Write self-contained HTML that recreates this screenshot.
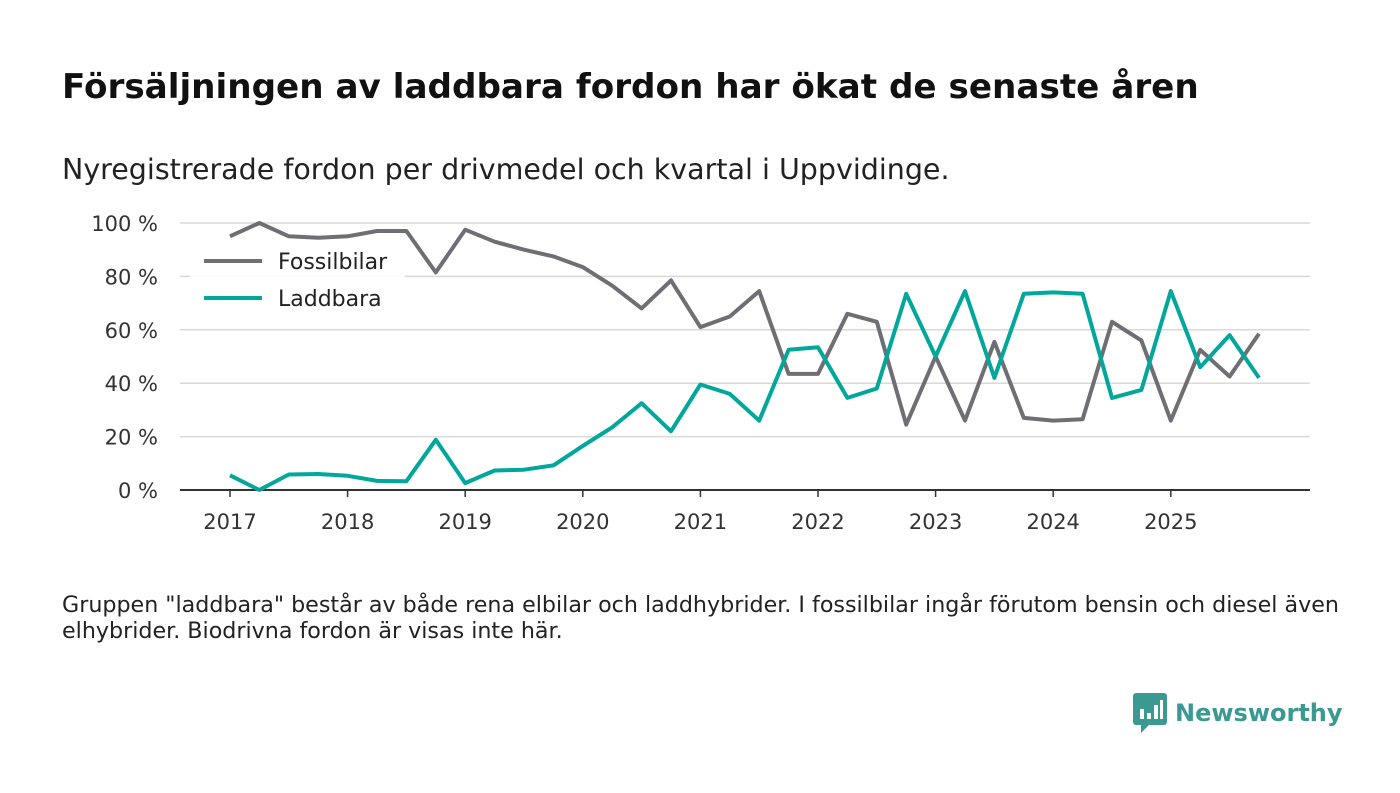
<!DOCTYPE html>
<html><head><meta charset="utf-8"><style>
body{margin:0;width:1400px;height:793px;background:#fff;font-family:"DejaVu Sans","Liberation Sans",sans-serif;overflow:hidden;position:relative}
h1{position:absolute;left:62px;top:67px;margin:0;font-size:34.2px;font-weight:bold;color:#111;white-space:nowrap}
.sub{position:absolute;left:62px;top:153px;font-size:28.5px;color:#222;white-space:nowrap}
.note{position:absolute;left:62px;top:592px;font-size:22.2px;color:#222;line-height:26px;width:1320px;white-space:nowrap}
.logo{position:absolute;left:1133px;top:693px;display:flex;align-items:center;gap:8px;color:#3a9a92;font-size:24px;font-weight:bold}
svg text{font-family:"DejaVu Sans","Liberation Sans",sans-serif}
</style></head><body>
<h1>Försäljningen av laddbara fordon har ökat de senaste åren</h1>
<div class="sub">Nyregistrerade fordon per drivmedel och kvartal i Uppvidinge.</div>
<svg id="chart" width="1400" height="793" style="position:absolute;left:0;top:0"></svg>
<div class="note">Gruppen "laddbara" består av både rena elbilar och laddhybrider. I fossilbilar ingår förutom bensin och diesel även<br>elhybrider. Biodrivna fordon är visas inte här.</div>
<div class="logo">
<svg width="34" height="40" viewBox="0 0 34 40"><rect x="0" y="0" width="34" height="32" rx="3" fill="#3a9a92"/><path d="M8 32 L8 40 L16 32Z" fill="#3a9a92"/><rect x="7" y="16" width="4" height="10" fill="#fff"/><rect x="14" y="20" width="4" height="6" fill="#fff"/><rect x="21" y="12" width="4" height="14" fill="#fff"/><rect x="27" y="7" width="3" height="19" fill="#fff"/></svg>
<span>Newsworthy</span></div>
<script>
const years=[2017,2018,2019,2020,2021,2022,2023,2024,2025];
const yTicks=[0,20,40,60,80,100];
const fossil=[95,100,95,94.5,95,97,97,81.5,97.5,93,90,87.5,83.5,76.5,68,78.5,61,65,74.5,43.5,43.5,66,63,24.5,50,26,55.5,27,26,26.5,63,56,26,52.5,42.5,58.5];
const laddbara=[5.5,0,5.8,6,5.3,3.4,3.3,18.8,2.6,7.3,7.6,9.2,16.5,23.5,32.5,22,39.5,36,26,52.5,53.5,34.5,38,73.5,50,74.5,42,73.5,74,73.5,34.5,37.5,74.5,46,58,42];
const NS="http://www.w3.org/2000/svg";
const svg=document.getElementById('chart');
const x=t=>230+(t-2017)*117.6;
const y=v=>490-v*2.67;
function el(tag,attrs,parent){const e=document.createElementNS(NS,tag);for(const k in attrs)e.setAttribute(k,attrs[k]);(parent||svg).appendChild(e);return e;}
yTicks.forEach(v=>{
  if(v>0){const g=el('line',{x1:180,x2:1310,y1:y(v),y2:y(v),stroke:'#d9d9d9','stroke-width':1.5});
  
  }
  const t=el('text',{x:158,y:y(v)+8,'text-anchor':'end','font-size':21,fill:'#333'});
  
  
  t.textContent=v+' %';
});
const ax=el('line',{x1:180,x2:1310,y1:490,y2:490,stroke:'#333','stroke-width':2});


years.forEach(yr=>{
  const tk=el('line',{x1:x(yr),x2:x(yr),y1:490,y2:497,stroke:'#333','stroke-width':1.5});
  
  
  const t=el('text',{x:x(yr),y:529,'text-anchor':'middle','font-size':21,fill:'#333'});
  
  
  t.textContent=yr;
});
function line(data,color,name){
  const d=data.map((v,i)=>(i?'L':'M')+x(2017+i/4).toFixed(1)+' '+y(v).toFixed(1)).join(' ');
  const p=el('path',{d:d,fill:'none',stroke:color,'stroke-width':4,'stroke-linejoin':'round'});
  
  
}
line(fossil,'#6f6e75','fossilbilar-line');
line(laddbara,'#00a79a','laddbara-line');
const lg=el('rect',{x:190,y:240,width:215,height:78,fill:'#fff',opacity:0.9});


[['Fossilbilar','#6f6e75',261],['Laddbara','#00a79a',298]].forEach(([n,c,yy])=>{
  const l=el('line',{x1:204,x2:262,y1:yy,y2:yy,stroke:c,'stroke-width':4});
  
  
  const t=el('text',{x:278,y:yy+8,'font-size':22,fill:'#222'});
  
  
  t.textContent=n;
});
</script>
</body></html>
